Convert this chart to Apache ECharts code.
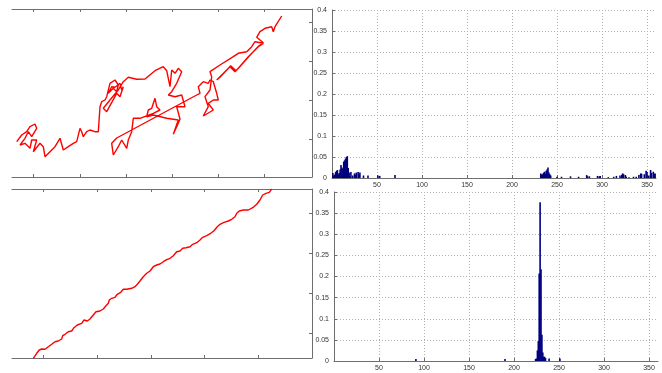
<!DOCTYPE html>
<html>
<head>
<meta charset="utf-8">
<script src="https://cdn.jsdelivr.net/npm/echarts@6/dist/echarts.min.js"></script>
<style>html,body{margin:0;padding:0;background:#fff}#c{width:662px;height:373px}</style>
</head>
<body>
<div id="c"></div>
<script>
// ---- top-left: random-walk path (arbitrary units) ----
var walkX = [4.7,9.7,14.7,18,23,24.7,19.7,16.3,13,8,6.3,13,18,19.7,24.7,21.3,28,31.3,33,38,43,48,51.3,56.3,61.3,64.7,68,69.7,71.3,74.7,78,83,86.3,84.7,88,89.7,93,94.7,98,103,106.3,104.7,101.3,96.3,99.7,103,108,109.7,111.3,108,104.7,94.7,91.3,98,106.3,111.3,116.3,124.7,133,143,151.3,154.7,156.3,158,159.7,163,166.3,169.7,164.7,159.7,156.3,163,169.7,173,164.7,168,164.7,161.3,166.3,154.7,141.3,134.7,136.3,139.7,143,144.7,148,141.3,128,121.3,119.7,116.3,114.7,109.7,106.3,101.3,99.7,104.7,184.7,188,186.3,191.3,196.3,198,201.3,204.7,206.3,201.3,196.3,201.3,191.3,196.3,193,198,199.7,198,208,221.3,226.3,228,234.7,239.7,243,251.3,246.3,236.3,226.3,223,218,204.7,208,218.7,224,227.3,237.3,246.7,251.3,244.7,248,253,259.7,261.3,263,264.7,269.7];
var walkY = [35.3,42,45.3,50.3,53,48.7,40.3,45.3,38.7,32,30.3,33.7,28.7,37,37,25.3,33.7,30.3,20.3,25.3,30.3,38.7,27,30.3,33.7,35.3,48.7,45.3,40.3,45.3,47,45.3,45.3,47,70.3,75.3,77,80.3,93.7,97,92,85.3,88.7,83.7,90.3,89.7,93.7,87,90.3,80.3,83.7,65.3,68.7,77,87,95.3,99.7,97.7,98,106.3,110.3,106.3,98.7,90.3,107,103.7,108.7,105.3,93.7,85.3,82,80.3,82,70.3,70.3,57.7,50.3,42.7,57,58.7,62,60.3,67,68.7,78.7,70.3,67,63.7,58.7,58.7,45.3,37,28.7,37,30.3,22,33.7,39,82,83.7,90.3,95.3,93.7,97,95.3,83.7,77,77,73.7,67,61,70.3,80.3,87,100.3,105.3,112,120.3,123.7,122,125.3,130.3,135.3,133.7,130.3,120.3,108.7,105.3,110.3,97,99.7,111.3,106.3,109.7,121,131,134.3,139.7,145.3,148.7,150.3,145.3,150.3,152,161];
var walkTicksX = [21,68,114,160,206,252];
var walkTicksY = [38,77,116,155];

// ---- bottom-left: rising path ----
var trendX = [21.3,24.7,27.3,29.7,33,36.3,39.7,43,46.3,49.7,50.7,53,56.3,59.7,62,65.3,69.7,72,75.3,78,81.3,84,88,91.3,94,96.3,97.3,99.7,103,105.3,108.7,111.3,114.7,119.7,123,125.3,128,131.3,134.7,138,141.3,144.7,148,151.3,154.7,158,161.3,164.7,168,170.7,174,178,180.7,184.7,188,190.7,194.7,198.7,202,205.3,208,212,216.3,219.7,223,224.7,227.3,231.3,236.3,240.7,244.7,248,250.7,254,257.3,259.7];
var trendY = [-0.3,4.7,8,9,8.7,11.3,13.7,16.3,17,19,22.3,23.7,26.3,27,30.3,33,34.7,38,37,39,43,46.3,47,49,52.3,54.7,58,59.7,60.7,63.7,65.7,68.7,68.7,69.7,71.3,73.7,77,81.3,84.7,87,91.3,93,94,96.3,98.3,99.7,102.3,106.3,107,109.7,110.3,111.3,113.7,115.3,118,120.7,122.3,124.7,127.3,131.3,133.7,135.7,137,138.7,141.3,144.7,147,148,148,150.3,153.7,158,163,164.7,165.7,169];
var trendTicksX = [31,85,139,192,246];
var trendTicksY = [25,65,105,145];

// ---- top-right histogram ----
var binsTop = [1,2,3,4,5,6,7,8,9,10,11,12,13,14,15,16,17,18,19,20,21,23,25,26,27,29,30,31,35,40,51,53,70,
  232,233,234,235,236,237,238,239,240,241,242,243,250,255,265,274,283,284,286,295,297,298,307,313,316,320,322,323,324,326,327,330,335,338,341,343,344,347,349,350,352,354,355,357,358,359];
var valsTop = [0.012,0.006,0.008,0.014,0.017,0.019,0.009,0.012,0.02,0.031,0.025,0.022,0.039,0.042,0.046,0.05,0.052,0.024,0.013,0.004,0.014,0.006,0.011,0.008,0.013,0.014,0.009,0.013,0.006,0.006,0.006,0.005,0.007,
  0.011,0.008,0.009,0.012,0.015,0.01,0.017,0.02,0.025,0.013,0.009,0.006,0.003,0.003,0.004,0.003,0.007,0.004,0.004,0.005,0.004,0.005,0.002,0.003,0.005,0.006,0.008,0.011,0.009,0.007,0.003,0.002,0.003,0.003,0.007,0.011,0.01,0.009,0.017,0.014,0.006,0.019,0.012,0.015,0.01,0.011];

// ---- bottom-right histogram ----
var binsBot = [91,190,224,225,226,227,228,229,230,231,232,233,234,235,239,251];
var valsBot = [0.005,0.005,0.005,0.006,0.025,0.047,0.207,0.376,0.217,0.062,0.02,0.01,0.01,0.007,0.006,0.006];

function pairs(a,b){var r=[];for(var i=0;i<a.length;i++)r.push([a[i],b[i]]);return r;}

var AX = '#6e6e6e';
function boxX(grid, pos, max, ticks){
  return {type:'value', gridIndex:grid, position:pos, min:0, max:max,
    axisLine:{show:true, onZero:false, lineStyle:{color:AX,width:1}},
    axisTick:{show:true, inside:true, length:3, customValues:ticks, lineStyle:{color:AX}},
    axisLabel:{show:false}, splitLine:{show:false}};
}
function boxY(grid, max, ticks){
  return {type:'value', gridIndex:grid, position:'right', min:0, max:max,
    axisLine:{show:true, onZero:false, lineStyle:{color:AX,width:1}},
    axisTick:{show:true, inside:true, length:3, customValues:ticks, lineStyle:{color:AX}},
    axisLabel:{show:false}, splitLine:{show:false}};
}
function histX(grid){
  return {type:'value', gridIndex:grid, min:0, max:360, interval:50,
    axisLine:{show:true, onZero:false, lineStyle:{color:AX}},
    axisTick:{show:true, inside:true, length:3, lineStyle:{color:AX}},
    axisLabel:{fontSize:7, color:'#333', margin:4, fontFamily:'Liberation Sans, Arial',
      showMinLabel:false, showMaxLabel:false},
    splitLine:{show:true, showMaxLine:false, lineStyle:{color:'#b0b0b0', type:[1,2], width:1}}};
}
function histY(grid){
  return {type:'value', gridIndex:grid, min:0, max:0.4, interval:0.05,
    axisLine:{show:true, onZero:false, lineStyle:{color:AX}},
    axisTick:{show:true, inside:true, length:3, lineStyle:{color:AX}},
    axisLabel:{fontSize:7, color:'#333', margin:5, fontFamily:'Liberation Sans, Arial'},
    splitLine:{show:true, lineStyle:{color:'#b0b0b0', type:[1,2], width:1}}};
}

var chart = echarts.init(document.getElementById('c'), null, {renderer:'canvas'});
chart.setOption({
  backgroundColor:'#fff',
  animation:false,
  grid:[
    {left:12, top:9, width:300, height:168},
    {left:12, top:189, width:300, height:169},
    {left:332, top:10, width:324, height:168},
    {left:334, top:192, width:324, height:169}
  ],
  xAxis:[
    boxX(0,'bottom',300,walkTicksX), boxX(0,'top',300,walkTicksX),
    boxX(1,'bottom',300,trendTicksX), boxX(1,'top',300,trendTicksX),
    histX(2), histX(3)
  ],
  yAxis:[
    boxY(0,168,walkTicksY), boxY(1,169,trendTicksY), histY(2), histY(3)
  ],
  series:[
    {type:'line', xAxisIndex:0, yAxisIndex:0, data:pairs(walkX,walkY), symbol:'none',
      lineStyle:{color:'#ff0000', width:1.4}, clip:true},
    {type:'line', xAxisIndex:2, yAxisIndex:1, data:pairs(trendX,trendY), symbol:'none',
      lineStyle:{color:'#ff0000', width:1.4}, clip:true},
    {type:'bar', xAxisIndex:4, yAxisIndex:2, data:pairs(binsTop,valsTop), barWidth:1.6,
      itemStyle:{color:'#00007f'}},
    {type:'bar', xAxisIndex:5, yAxisIndex:3, data:pairs(binsBot,valsBot), barWidth:1.6,
      itemStyle:{color:'#00007f'}}
  ]
});
</script>
</body>
</html>
